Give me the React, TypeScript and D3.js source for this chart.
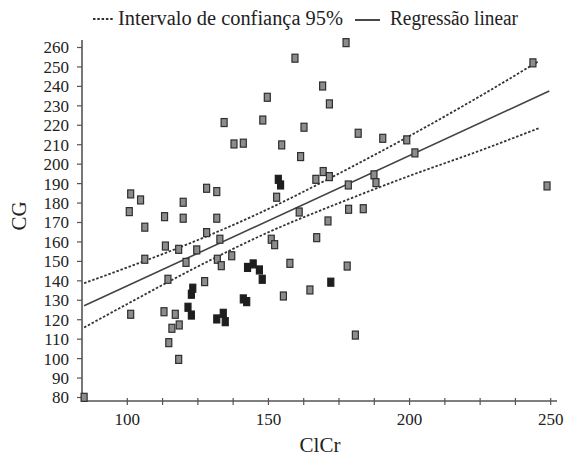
import React from "react";
import * as d3 from "d3";

const W = 566;
const H = 457;

// Light (gray) points
const lightX = [177.5,159.4,243.7,169.2,149.6,171.6,148.0,134.3,162.6,181.8,190.5,199.0,137.8,141.1,154.7,201.9,161.4,169.4,171.6,166.8,187.4,188.1,178.3,248.7,128.1,131.7,101.2,104.7,119.8,152.9,100.7,113.2,119.8,131.7,160.9,178.4,183.6,171.1,106.2,128.1,132.8,151.0,152.2,167.1,113.5,118.2,124.6,131.9,133.3,106.2,137.0,120.8,157.6,177.9,114.4,127.4,155.3,164.7,101.2,113.0,117.0,118.4,115.8,114.7,118.2,84.7,180.8];
const lightY = [262.5,254.5,252.1,240.2,234.4,231.0,222.7,221.4,219.0,215.9,213.3,212.5,210.4,210.8,209.9,205.8,203.9,196.2,193.6,192.2,194.5,190.5,189.3,188.8,187.6,185.9,184.7,181.6,180.4,183.0,175.6,173.0,172.2,172.2,175.4,176.8,177.1,170.8,167.6,164.8,161.4,161.4,158.6,162.2,157.9,156.2,155.9,151.1,147.8,151.1,152.9,149.5,149.0,147.6,140.8,139.6,132.2,135.3,122.8,124.1,122.8,117.3,115.6,108.2,99.6,80.1,112.1];

// Dark (filled) points
const darkX = [153.5,154.3,142.6,144.6,146.8,147.8,123.2,122.7,172.1,141.1,142.3,121.5,122.7,131.7,134.0,134.7];
const darkY = [192.2,189.3,146.9,148.7,145.6,140.8,136.2,133.1,139.3,130.7,129.3,126.4,122.4,120.4,123.3,119.0];

// Regression line endpoints
const regX = [84.7, 249.5];
const regY = [127.2, 237.6];

// 95% confidence band read at several ClCr values
const ciX = [84.7, 100, 125, 150, 175, 200, 225, 245.8];
const ciUpper = [138.8, 146.9, 161.0, 177.0, 195.2, 214.5, 235.0, 253.0];
const ciLower = [116.0, 128.1, 147.4, 165.0, 180.0, 194.0, 207.0, 218.5];

const yTicks = [80,90,100,110,120,130,140,150,160,170,180,190,200,210,220,230,240,250,260];
const xTickLabels = [100, 150, 200, 250];
const xMinorTicks = [100,112.5,125,137.5,150,162.5,175,187.5,200,212.5,225,237.5,250];

const legendLabels = ["Intervalo de confiança 95%", "Regressão linear"];

const FONT = "'Liberation Serif', 'DejaVu Serif', serif";

export default function App() {
  const x = d3.scaleLinear().domain([100, 250]).range([127.3, 550.7]);
  const y = d3.scaleLinear().domain([80, 260]).range([397.5, 47.5]);

  const axisX = 82;
  const axisY = 401;
  const axisColor = "#555";

  const line = d3.line<[number, number]>().x(d => x(d[0])).y(d => y(d[1]));
  const curve = d3.line<[number, number]>().x(d => x(d[0])).y(d => y(d[1])).curve(d3.curveMonotoneX);

  const regPts = regX.map((v, i) => [v, regY[i]] as [number, number]);
  const upPts = ciX.map((v, i) => [v, ciUpper[i]] as [number, number]);
  const loPts = ciX.map((v, i) => [v, ciLower[i]] as [number, number]);

  const pw = 6, ph = 8;

  return (
    <svg width={W} height={H} style={{ position: "absolute", left: 0, top: 0, background: "#fff" }} fontFamily={FONT}>
      {/* Legend */}
      <g>
        <line x1={93} x2={114} y1={19} y2={19} stroke="#333" strokeWidth={1.8} strokeDasharray="2.5,1.8" />
        <text x={118} y={25} fontSize={20} fill="#222" textLength={225} lengthAdjust="spacingAndGlyphs">{legendLabels[0]}</text>
        <line x1={355} x2={380} y1={20} y2={20} stroke="#333" strokeWidth={1.8} />
        <text x={390} y={25} fontSize={20} fill="#222" textLength={128} lengthAdjust="spacingAndGlyphs">{legendLabels[1]}</text>
      </g>

      {/* Axes */}
      <line x1={axisX} x2={axisX} y1={40} y2={axisY} stroke={axisColor} strokeWidth={1.6} />
      <line x1={axisX} x2={557} y1={axisY} y2={axisY} stroke={axisColor} strokeWidth={1.6} />

      {yTicks.map(t => (
        <g key={"y" + t}>
          <line x1={axisX - 5} x2={axisX} y1={y(t)} y2={y(t)} stroke={axisColor} strokeWidth={1.2} />
          <text x={69} y={y(t)} dy="0.35em" textAnchor="end" fontSize={17} fill="#222">{t}</text>
        </g>
      ))}

      {xMinorTicks.map(t => (
        <line key={"xm" + t} x1={x(t)} x2={x(t)} y1={axisY - 3} y2={axisY + 4} stroke={axisColor} strokeWidth={1.2} />
      ))}
      {xTickLabels.map(t => (
        <text key={"xl" + t} x={x(t)} y={425} textAnchor="middle" fontSize={17} fill="#222">{t}</text>
      ))}

      <text x={320} y={452} textAnchor="middle" fontSize={21} fill="#222">ClCr</text>
      <text transform="translate(26,216) rotate(-90)" textAnchor="middle" fontSize={21} fill="#222">CG</text>

      {/* Confidence band */}
      <path d={curve(upPts) || ""} fill="none" stroke="#333" strokeWidth={1.8} strokeDasharray="2.5,1.8" />
      <path d={curve(loPts) || ""} fill="none" stroke="#333" strokeWidth={1.8} strokeDasharray="2.5,1.8" />
      {/* Regression */}
      <path d={line(regPts) || ""} fill="none" stroke="#444" strokeWidth={1.6} />

      {/* Points */}
      {lightX.map((v, i) => (
        <rect key={"l" + i} x={x(v) - pw / 2} y={y(lightY[i]) - ph / 2} width={pw} height={ph}
          fill="#8c8c8c" stroke="#2e2e2e" strokeWidth={1.2} />
      ))}
      {darkX.map((v, i) => (
        <rect key={"d" + i} x={x(v) - pw / 2} y={y(darkY[i]) - ph / 2} width={pw} height={ph}
          fill="#1e1e1e" stroke="#1e1e1e" strokeWidth={1.2} />
      ))}
    </svg>
  );
}
